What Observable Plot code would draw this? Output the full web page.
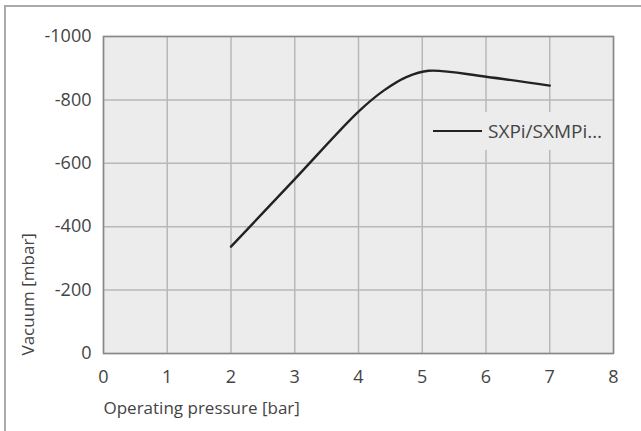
<!DOCTYPE html>
<html>
<head>
<meta charset="utf-8">
<script src="https://cdn.jsdelivr.net/npm/d3@7"></script>
<script src="https://cdn.jsdelivr.net/npm/@observablehq/plot@0.6"></script>
<style>
  html, body { margin: 0; padding: 0; background: #fff; }
  #wrap { position: relative; width: 641px; height: 431px; overflow: hidden; font-family: "Open Sans", sans-serif; }
  #border { position: absolute; left: 4px; top: 5px; right: -10px; bottom: -10px; border-top: 2px solid #aaa; border-left: 2px solid #aaa; pointer-events: none; }
  #legend { position: absolute; left: 425px; top: 112px; width: 186px; height: 38px; background: #ececec; display: flex; align-items: center; }
  #legend .sw { width: 49px; height: 0; border-top: 2.4px solid #222; margin-left: 8px; margin-right: 6px; }
  #legend .tx { font-size: 19px; color: #444; white-space: nowrap; }
</style>
</head>
<body>
<div id="wrap">
  <div id="chart"></div>
  <div id="legend"><div class="sw"></div><div class="tx" id="legtext"></div></div>
  <div id="border"></div>
</div>
<script>
const pressure = [2, 3, 4, 4.4, 4.75, 5.1, 6, 7];
const vacuum = [-337, -550, -763, -830, -872, -892, -873, -845];
const seriesName = "SXPi/SXMPi…";
const xTicks = [0, 1, 2, 3, 4, 5, 6, 7, 8];
const yTicks = [0, -200, -400, -600, -800, -1000];
const xTitle = "Operating pressure [bar]";
const yTitle = "Vacuum [mbar]";

const data = pressure.map((p, i) => ({p, v: vacuum[i]}));
document.getElementById("legtext").textContent = seriesName;

const chart = Plot.plot({
  width: 641,
  height: 431,
  marginLeft: 103,
  marginTop: 36,
  marginRight: 28,
  marginBottom: 78,
  style: {fontFamily: "Open Sans, sans-serif", fontSize: "17px", color: "#444", background: "transparent"},
  x: {domain: [0, 8], ticks: xTicks},
  y: {domain: [0, -1000], ticks: yTicks},
  marks: [
    Plot.frame({fill: "#ececec"}),
    Plot.gridX(xTicks, {stroke: "#b8b8b8", strokeOpacity: 1, strokeWidth: 1.5}),
    Plot.gridY(yTicks, {stroke: "#b8b8b8", strokeOpacity: 1, strokeWidth: 1.5}),
    Plot.frame({stroke: "#888", strokeWidth: 1.5}),
    Plot.axisX(xTicks, {tickSize: 0, tickPadding: 17, label: null, fill: "#444", fontSize: 18}),
    Plot.axisY(yTicks, {tickSize: 0, tickPadding: 12, tickFormat: d => String(d), label: null, fill: "#444", fontSize: 18}),
    Plot.text([xTitle], {frameAnchor: "bottom-left", textAnchor: "start", lineAnchor: "middle", dy: 55, fill: "#444", fontSize: 17}),
    Plot.text([yTitle], {frameAnchor: "bottom-left", textAnchor: "start", lineAnchor: "middle", rotate: -90, dx: -75, dy: 2, fill: "#444", fontSize: 17}),
    Plot.line(data, {x: "p", y: "v", curve: "catmull-rom", stroke: "#222", strokeWidth: 2.4})
  ]
});
document.getElementById("chart").appendChild(chart);
</script>
</body>
</html>
